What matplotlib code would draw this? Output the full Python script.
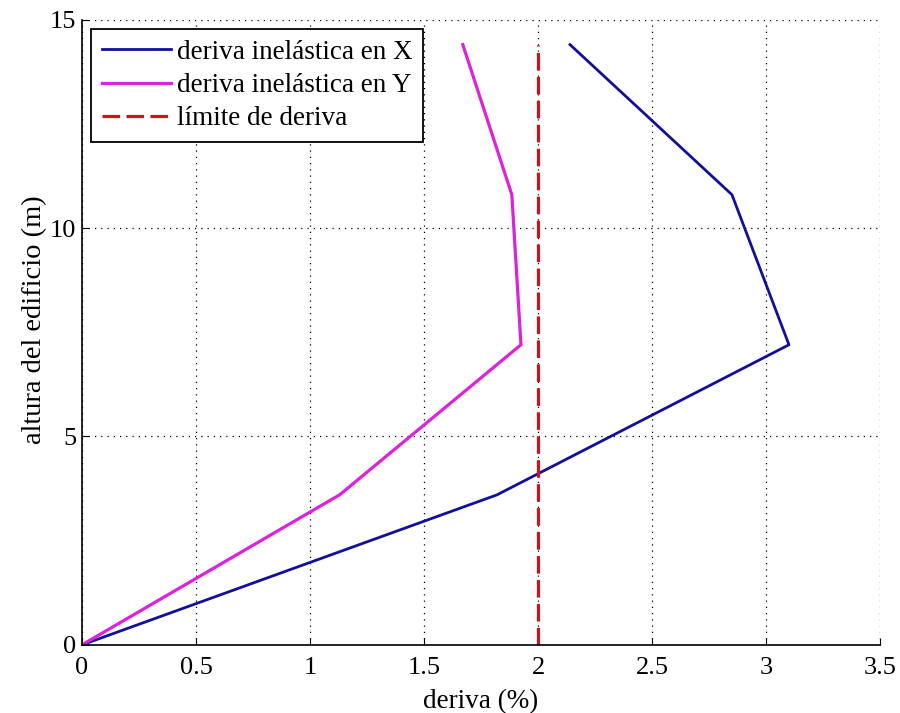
import matplotlib.pyplot as plt

# alturas de piso (m) y derivas (%)
altura = [0, 3.6, 7.2, 10.8, 14.4]
deriva_x = [0, 1.82, 3.1, 2.85, 2.14]
deriva_y = [0, 1.13, 1.925, 1.885, 1.67]
limite = [2, 2]
altura_limite = [0, 14.4]

plt.rcParams['font.family'] = ['Liberation Serif', 'DejaVu Serif']
plt.rcParams['font.size'] = 19

fig = plt.figure(figsize=(9, 7.13), dpi=100)
ax = fig.add_axes([0.091, 0.0955, 0.887, 0.877])

ax.plot(deriva_x, altura, color='#10109a', lw=2, label='deriva inelástica en X')
ax.plot(deriva_y, altura, color='#dc22dc', lw=2.3, label='deriva inelástica en Y')
ax.plot(limite, altura_limite, color='#c8141e', lw=2.3, ls=(0, (5.5, 2)), label='límite de deriva')

ax.set_xlim(0, 3.5)
ax.set_ylim(0, 15)
ax.set_xticks([0, 0.5, 1, 1.5, 2, 2.5, 3, 3.5])
ax.set_xticklabels(['0', '0.5', '1', '1.5', '2', '2.5', '3', '3.5'])
ax.set_yticks([0, 5, 10, 15])
ax.grid(True, color='black', ls=(0, (1, 4)), lw=0.9)
ax.spines['top'].set_visible(False)
ax.spines['right'].set_visible(False)
ax.spines['left'].set_linewidth(1.2)
ax.spines['bottom'].set_linewidth(1.2)
ax.tick_params(direction='in', length=5, pad=4, top=False, right=False)
ax.tick_params(axis='x', pad=9)

ax.set_xlabel('deriva (%)', fontsize=19.5, labelpad=7)
ax.set_ylabel('altura del edificio (m)', fontsize=20.5)
ax.yaxis.set_label_coords(-0.044, 0.52)

leg = ax.legend(loc='upper left', fancybox=False, edgecolor='black', framealpha=1,
                fontsize=19.5, borderaxespad=0.35, handlelength=2.55, handletextpad=0.2,
                labelspacing=0.3, borderpad=0.4)
leg.get_frame().set_linewidth(1.3)

fig.savefig('out.png', dpi=100)
